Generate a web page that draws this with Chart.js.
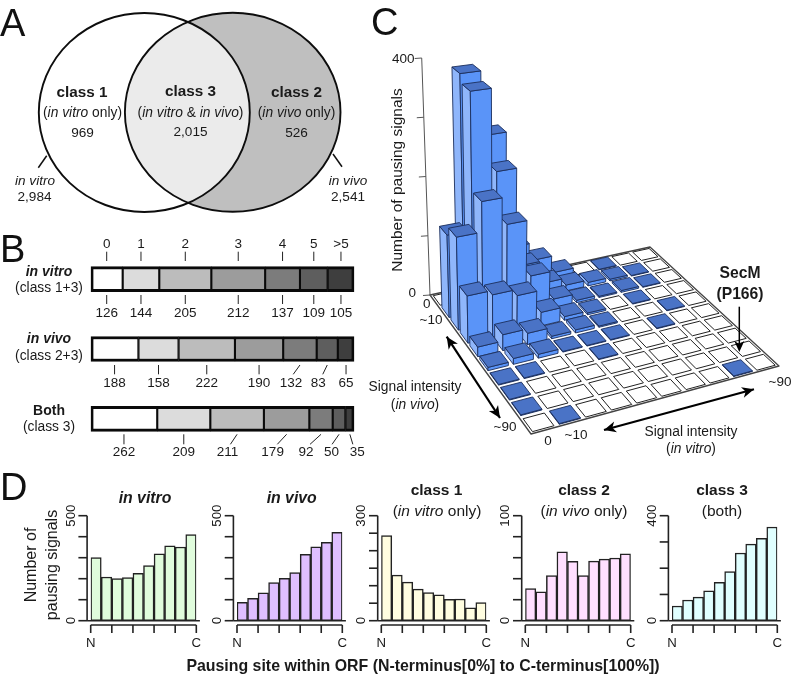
<!DOCTYPE html>
<html><head><meta charset="utf-8">
<style>html,body{margin:0;padding:0;background:#fff;width:793px;height:676px;overflow:hidden}
canvas{position:absolute;left:0;top:0}</style>
<script src="https://cdn.jsdelivr.net/npm/chart.js@4"></script>
</head><body>
<script>
// ---------- DATA ----------
const vennClasses = ['class 1','class 3','class 2'];
const vennCounts = [969, 2015, 526];
const vennTotals = [2984, 2541];

const codonBins = ['0','1','2','3','4','5','>5'];
const rowNames = ['in vitro','in vivo','Both'];
const inVitroBins = [126,144,205,212,137,109,105];
const inVivoBins = [188,158,222,190,132,83,65];
const bothBins = [262,209,211,179,92,50,35];

// number of pausing signals: one list per in vivo bin, one value per in vitro bin
const vivoBin0 = [0,380,270,72,42,13,0,1,0,0];
const vivoBin1 = [135,365,225,60,22,10,6,3,1,0];
const vivoBin2 = [150,200,155,62,15,4,2,3,1,0];
const vivoBin3 = [75,68,58,22,6,3,0,1,0,0];
const vivoBin4 = [15,25,18,4,5,2,0,0,1,0];
const vivoBin5 = [5,9,6,1,1,1,0,1,0,0];
const vivoBin6 = [1,1,0,0,1,0,0,0,0,0];
const vivoBin7 = [1,0,0,0,0,0,0,0,0,0];
const vivoBin8 = [1,0,0,0,0,0,0,0,0,0];
const vivoBin9 = [0,1,0,0,0,0,0,0,1,0];

const orfBins = ['1','2','3','4','5','6','7','8','9','10'];
const histInVitro = [300,208,200,205,225,262,319,356,351,410];
const histInVivo = [87,106,133,181,202,229,316,352,373,421];
const histClass1 = [243,130,110,90,80,74,61,62,37,52];
const histClass2 = [30.5,27.6,42.9,65.7,56.5,42.9,56.8,58.7,59.7,63.8];
const histClass3 = [56,79,90,114,146,187,258,292,314,357];

// ---------- HELPERS ----------
const FF = '"Liberation Sans", Arial, sans-serif';
const W = 793, H = 676;
function newCanvas(){
  const c = document.createElement('canvas');
  c.width = W; c.height = H; c.style.width = W+'px'; c.style.height = H+'px';
  document.body.appendChild(c);
  return c.getContext('2d');
}
function pad(x0,y0,x1,y1){ return {left:x0, top:y0, right:W-x1, bottom:H-y1}; }
function font(size,style){ return (style?style+' ':'')+size+'px '+FF; }
function text(ctx,s,x,y,size,style,align,color){
  ctx.font = font(size,style); ctx.textAlign = align||'center';
  ctx.textBaseline='middle'; ctx.fillStyle = color||'#1a1a1a'; ctx.fillText(s,x,y);
}
function runs(ctx,parts,cx,cy,size){
  let w=0;
  parts.forEach(p=>{ctx.font=font(size,p[1]);w+=ctx.measureText(p[0]).width;});
  let x=cx-w/2;
  ctx.textAlign='left';ctx.textBaseline='middle';ctx.fillStyle='#1a1a1a';
  parts.forEach(p=>{ctx.font=font(size,p[1]);ctx.fillText(p[0],x,cy);x+=ctx.measureText(p[0]).width;});
}
function vtext(ctx,s,x,y,size,style){
  ctx.save();ctx.translate(x,y);ctx.rotate(-Math.PI/2);text(ctx,s,0,0,size,style);ctx.restore();
}
function seg(ctx,x0,y0,x1,y1,w,c){
  ctx.beginPath();ctx.moveTo(x0,y0);ctx.lineTo(x1,y1);ctx.lineWidth=w;ctx.strokeStyle=c;ctx.stroke();
}
function letter(ctx,s,x,y){
  ctx.font=font(38);ctx.textAlign='left';ctx.textBaseline='alphabetic';ctx.fillStyle='#111';ctx.fillText(s,x,y);
}
function arrowHead(ctx,x,y,ang,len,wid){
  ctx.save();ctx.translate(x,y);ctx.rotate(ang);
  ctx.beginPath();ctx.moveTo(0,0);ctx.lineTo(-len,wid/2);ctx.lineTo(-len*0.72,0);ctx.lineTo(-len,-wid/2);ctx.closePath();
  ctx.fillStyle='#000';ctx.fill();ctx.restore();
}
function dblArrow(ctx,x0,y0,x1,y1){
  seg(ctx,x0,y0,x1,y1,2.2,'#000');
  const a=Math.atan2(y1-y0,x1-x0);
  arrowHead(ctx,x1,y1,a,12,11);arrowHead(ctx,x0,y0,a+Math.PI,12,11);
}
const baseOpts = {
  responsive:false, animation:false, events:[], devicePixelRatio:1,
  plugins:{legend:{display:false},tooltip:{enabled:false},title:{display:false}}
};

// ---------- PANEL A ----------
new Chart(newCanvas(),{
  type:'scatter',
  data:{datasets:[{label:'class sizes',data:[],pointRadius:0}]},
  options:{...baseOpts,layout:{padding:0},
    scales:{x:{display:false,type:'linear',min:0,max:W},y:{display:false,type:'linear',min:0,max:H,reverse:true}}},
  plugins:[{id:'venn',afterDatasetsDraw(ch){
    const c=ch.ctx,X=ch.scales.x,Y=ch.scales.y;
    const a={x:X.getPixelForValue(144.3),y:Y.getPixelForValue(112.5),rx:105.5,ry:99.5};
    const b={x:X.getPixelForValue(232.7),y:Y.getPixelForValue(112.3),rx:107.8,ry:99.5};
    const path=e=>{c.beginPath();c.ellipse(e.x,e.y,e.rx,e.ry,0,0,Math.PI*2);};
    c.save();
    path(b);c.fillStyle='#bfbfbf';c.fill();
    path(a);c.fillStyle='#ffffff';c.fill();
    c.save();path(b);c.clip();path(a);c.fillStyle='#ebebeb';c.fill();c.restore();
    c.lineWidth=1.9;c.strokeStyle='#0d0d0d';path(a);c.stroke();path(b);c.stroke();
    seg(c,46.7,155.7,38.3,167.7,1.5,'#111');seg(c,333,154,342,166.7,1.5,'#111');
    const fmt=n=>n.toLocaleString('en-US');
    text(c,vennClasses[0],82,92.5,15.3,'bold');
    runs(c,[['(',''],['in vitro','italic'],[' only)','']],82.5,113.5,13.8);
    text(c,fmt(vennCounts[0]),82.5,133,13.6);
    text(c,vennClasses[1],190.5,91.5,15.3,'bold');
    runs(c,[['(',''],['in vitro','italic'],[' & ',''],['in vivo','italic'],[')','']],190.5,113,13.8);
    text(c,fmt(vennCounts[1]),190.5,132,13.6);
    text(c,vennClasses[2],296.5,92.5,15.3,'bold');
    runs(c,[['(',''],['in vivo','italic'],[' only)','']],296.5,113.5,13.8);
    text(c,fmt(vennCounts[2]),296.5,133,13.6);
    text(c,'in vitro',35,181,13.6,'italic');text(c,fmt(vennTotals[0]),34.5,197,13.6);
    text(c,'in vivo',348,181,13.6,'italic');text(c,fmt(vennTotals[1]),348,197,13.6);
    letter(c,'A',0,36);
    c.restore();
  }}]
});

// ---------- PANEL B ----------
const greys=['#ffffff','#dcdcdc','#bcbcbc','#9c9c9c','#7c7c7c','#5e5e5e','#3e3e3e'];
const binRows=[inVitroBins,inVivoBins,bothBins];
const textOffsets=[[0,0,0,0,0,0,0],[0,0,0,0,-9,-9,0],[0,0,-9.7,-14,-15,-7.5,7.5]];
const legOffsets=[[0,0,0,0,0,0,0],[0,0,0,0,-6.7,-4.5,0],[0,0,-6.7,-9.3,-11,-7,3]];
new Chart(newCanvas(),{
  type:'bar',
  data:{labels:rowNames,datasets:codonBins.map((b,k)=>({
    label:b,
    data:binRows.map(r=>r[k]),
    backgroundColor:greys[k],
    borderColor:'#0a0a0a',
    borderSkipped:false,
    borderWidth:{top:3,bottom:3,left:k===0?3:1.4,right:k===6?3:1.4},
    barThickness:25
  }))},
  options:{...baseOpts,indexAxis:'y',layout:{padding:pad(90.7,244.3,354.3,453.7)},
    scales:{
      x:{display:false,stacked:true,min:0,max:1038},
      y:{display:false,stacked:true}
    }},
  plugins:[{id:'binLabels',afterDatasetsDraw(ch){
    const c=ch.ctx,X=ch.scales.x;
    c.save();
    const legTop=[295,365,434.3],legBot=[304,374.3,444.3],txtY=[313.3,383.3,452.7];
    binRows.forEach((r,ri)=>{
      let cum=0;
      r.forEach((v,k)=>{
        const cx=X.getPixelForValue(cum+v/2);cum+=v;
        seg(c,cx,legTop[ri],cx+legOffsets[ri][k],legBot[ri],1,'#222');
        text(c,String(v),cx+textOffsets[ri][k],txtY[ri],13.5);
        if(ri===0){
          seg(c,cx,251.7,cx,261,1,'#222');
          text(c,codonBins[k],cx,244,13.5);
        }
      });
    });
    const lx=49;
    text(c,rowNames[0],lx,271.7,14,'italic bold');text(c,'(class 1+3)',lx,288.3,13.8);
    text(c,rowNames[1],lx,339.3,14,'italic bold');text(c,'(class 2+3)',lx,355.7,13.8);
    text(c,rowNames[2],lx,411,14,'bold');text(c,'(class 3)',lx,427.3,13.8);
    letter(c,'B',0,261.7);
    c.restore();
  }}]
});

// ---------- PANEL C ----------
const vivoRows=[vivoBin0,vivoBin1,vivoBin2,vivoBin3,vivoBin4,vivoBin5,vivoBin6,vivoBin7,vivoBin8,vivoBin9];
const floorL={x:430,y:295},floorB={x:650,y:247},floorR={x:779,y:366},floorF={x:531,y:434};
function homography(L,B,R,F){
  const dx1=B.x-R.x,dy1=B.y-R.y,dx2=F.x-R.x,dy2=F.y-R.y;
  const sx=L.x-B.x+R.x-F.x,sy=L.y-B.y+R.y-F.y;
  const det=dx1*dy2-dy1*dx2;
  const g=(sx*dy2-sy*dx2)/det,h=(dx1*sy-dy1*sx)/det;
  const a=B.x-L.x+g*B.x,b=F.x-L.x+h*F.x,d=B.y-L.y+g*B.y,e=F.y-L.y+h*F.y;
  return (u,v)=>{const w=g*u+h*v+1;return {x:(a*u+b*v+L.x)/w,y:(d*u+e*v+L.y)/w,d:w};};
}
const VANISH_X=500,LEAN=2000,CELL_INSET=0.1;
new Chart(newCanvas(),{
  type:'scatter',
  data:{datasets:vivoRows.map((r,i)=>({label:'vivo '+i,data:r.map((v,j)=>({x:j,y:v})),pointRadius:0,showLine:false}))},
  options:{...baseOpts,layout:{padding:pad(380,58,779,295)},
    scales:{x:{display:false,type:'linear',min:0,max:9},
            y:{display:false,type:'linear',min:0,max:400,ticks:{stepSize:100}}}},
  plugins:[{id:'bars3d',afterDatasetsDraw(ch){
    const c=ch.ctx,Y=ch.scales.y,floor=homography(floorL,floorB,floorR,floorF);
    const lift=(p,val)=>{
      const Hh=(Y.getPixelForValue(0)-Y.getPixelForValue(val))/p.d;
      return {x:VANISH_X+(p.x-VANISH_X)*(1+Hh/LEAN),y:p.y-Hh};
    };
    const poly=(pts,fill,stroke,w)=>{
      c.beginPath();pts.forEach((p,k)=>k?c.lineTo(p.x,p.y):c.moveTo(p.x,p.y));c.closePath();
      if(fill){c.fillStyle=fill;c.fill();}
      if(stroke){c.strokeStyle=stroke;c.lineWidth=w;c.stroke();}
    };
    c.save();c.lineJoin='round';
    // tilted value axis
    const a0=lift({x:floorL.x,y:floorL.y,d:1},0),a1=lift({x:floorL.x,y:floorL.y,d:1},400);
    seg(c,a0.x,a0.y,a1.x,a1.y,1,'#555');
    Y.ticks.forEach(t=>{
      const p=lift({x:floorL.x,y:floorL.y,d:1},t.value);
      seg(c,p.x,p.y,p.x-7,p.y+0.5,1,'#555');
    });
    text(c,'400',414.5,59,13.5,'', 'right');
    text(c,'0',416,293,13.5,'', 'right');
    vtext(c,'Number of pausing signals',398,180,15.5);
    // floor frame
    poly([floorL,floorB,floorR,floorF],'#fff','#444',1.3);
    // cells, far to near
    for(let i=0;i<10;i++){
      for(let j=9;j>=0;j--){
        const val=ch.data.datasets[i].data[j].y;
        const m=CELL_INSET,u0=(j+m)/10,u1=(j+1-m)/10,v0=(i+m)/10,v1=(i+1-m)/10;
        const a=floor(u0,v0),b=floor(u1,v0),cc=floor(u1,v1),d=floor(u0,v1);
        if(val<=0){poly([a,b,cc,d],'#fff','#222',1);continue;}
        const A=lift(a,val),B=lift(b,val),C=lift(cc,val),D=lift(d,val);
        poly([d,a,A,D],'#8fb6fb','#1c2f5c',0.9);
        poly([d,cc,C,D],'#5a94f8','#1c2f5c',0.9);
        poly([A,B,C,D],'#4a73c6','#1c2f5c',0.9);
      }
    }
    // annotations
    text(c,'0',426.7,304,13.5);text(c,'~10',431,320,13.5);
    text(c,'~90',505,427,13.5);text(c,'0',548,441,13.5);text(c,'~10',576,435,13.5);text(c,'~90',780,382.7,13.5);
    dblArrow(c,446.7,336.7,500,418);
    dblArrow(c,604,430,754,389.3);
    text(c,'Signal intensity',415,387,13.8);
    runs(c,[['(',''],['in vivo','italic'],[')','']],415,405,13.8);
    text(c,'Signal intensity',691,432.5,13.8);
    runs(c,[['(',''],['in vitro','italic'],[')','']],691,449.5,13.8);
    text(c,'SecM',740,274,15.7,'bold');text(c,'(P166)',740,295,15.7,'bold');
    seg(c,739.3,306.7,739.3,345,1.5,'#000');
    arrowHead(c,739.3,352,Math.PI/2,11,10);
    letter(c,'C',371,35);
    c.restore();
  }}]
});

// ---------- PANEL D ----------
const Y0=620.7,YT=515.7;
function hist(cfg){
  new Chart(newCanvas(),{
    type:'bar',
    data:{labels:orfBins,datasets:[{label:cfg.name,data:cfg.values,backgroundColor:cfg.fill,borderColor:'#222',borderWidth:1.5,borderSkipped:false,barPercentage:1,categoryPercentage:1}]},
    options:{...baseOpts,layout:{padding:pad(cfg.x0,YT,cfg.x1,Y0)},
      scales:{
        x:{display:false,offset:true},
        y:{display:false,min:0,max:cfg.max,ticks:{stepSize:cfg.step}}
      }},
    plugins:[{id:'rAxes',afterDatasetsDraw(ch){
      const c=ch.ctx,X=ch.scales.x,Y=ch.scales.y;
      c.save();
      const ax=cfg.x0-3.6,col='#222';
      const yTop=Y.getPixelForValue(cfg.max),yZero=Y.getPixelForValue(0);
      seg(c,ax,yTop,ax,yZero,1.6,col);
      Y.ticks.forEach(t=>{const y=Y.getPixelForValue(t.value);seg(c,ax-8.7,y,ax,y,1.6,col);});
      seg(c,ax,yZero,cfg.x1+3.6,yZero,1.6,col);
      vtext(c,String(cfg.max),ax-16,yTop,13.2);vtext(c,'0',ax-16,yZero,13.2);
      const step=(X.getPixelForValue(1)-X.getPixelForValue(0));
      const xs=[0,2,4,6,8,10].map(k=>X.getPixelForValue(0)-step/2+k*step);
      seg(c,xs[0],625,xs[5],625,1.6,col);
      xs.forEach(x=>seg(c,x,625,x,633,1.6,col));
      text(c,'N',xs[0],643,13.2);text(c,'C',xs[5],643,13.2);
      cfg.title(c);
      if(cfg.extra)cfg.extra(c);
      c.restore();
    }}]
  });
}
hist({name:'in vitro',values:histInVitro,fill:'#e0fcdc',x0:90.7,x1:196.3,max:500,step:100,
  title:c=>text(c,'in vitro',145,499,15.8,'italic bold'),
  extra:c=>{
    vtext(c,'Number of',32,565,16);vtext(c,'pausing signals',53,565,16);
    text(c,'Pausing site within ORF (N-terminus[0%] to C-terminus[100%])',423,667,15.9,'bold');
    letter(c,'D',0,500);
  }});
hist({name:'in vivo',values:histInVivo,fill:'#dfbfff',x0:237,x1:342.3,max:500,step:100,
  title:c=>text(c,'in vivo',291.7,499,15.8,'italic bold')});
hist({name:'class 1',values:histClass1,fill:'#fffde0',x0:381.3,x1:486.3,max:300,step:50,
  title:c=>{text(c,'class 1',436.5,491,15.5,'bold');runs(c,[['(',''],['in vitro','italic'],[' only)','']],437,512,15.5);}});
hist({name:'class 2',values:histClass2,fill:'#ffdfff',x0:525.3,x1:630.7,max:100,step:20,
  title:c=>{text(c,'class 2',584,491,15.5,'bold');runs(c,[['(',''],['in vivo','italic'],[' only)','']],584,512,15.5);}});
hist({name:'class 3',values:histClass3,fill:'#e0ffff',x0:672,x1:777.3,max:400,step:100,
  title:c=>{text(c,'class 3',722,491,15.5,'bold');text(c,'(both)',722,512,15.5);}});
</script>
</body></html>
